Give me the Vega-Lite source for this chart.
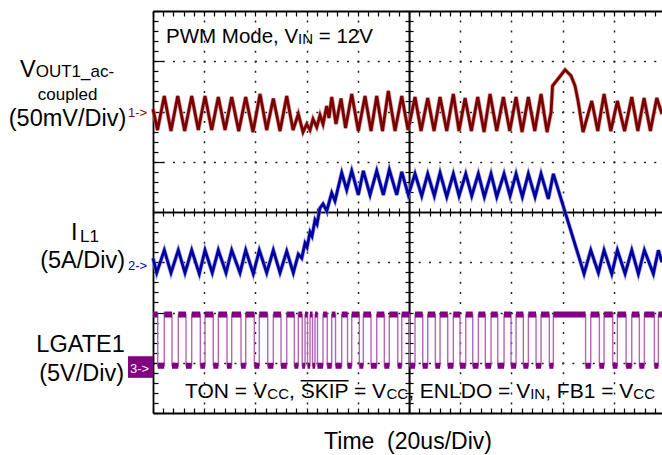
{
"$schema": "https://vega.github.io/schema/vega-lite/v6.json",
"autosize": {"type": "none"},
"width": 509,
"height": 402,
"padding": {"left": 153, "top": 11, "right": 0, "bottom": 42},
"background": "white",
"config": {"view": {"stroke": null}, "text": {"font": "Liberation Sans"}, "axis": {"domainColor": "black", "tickColor": "black", "tickWidth": 1.2, "labels": false, "zindex": 0}},
"datasets": {
"vout": [{"t":0,"v":6.05},{"t":1.76,"v":5.63},{"t":4.41,"v":6.31},{"t":7.03,"v":5.61},{"t":9.65,"v":6.31},{"t":12.38,"v":5.61},{"t":15.12,"v":6.31},{"t":17.7,"v":5.63},{"t":20.31,"v":6.31},{"t":22.93,"v":5.63},{"t":25.51,"v":6.29},{"t":28.13,"v":5.63},{"t":30.74,"v":6.29},{"t":33.48,"v":5.61},{"t":36.21,"v":6.29},{"t":39.06,"v":5.59},{"t":41.8,"v":6.35},{"t":44.41,"v":5.63},{"t":46.99,"v":6.26},{"t":49.61,"v":5.61},{"t":52.23,"v":6.31},{"t":54.69,"v":5.63},{"t":56.76,"v":5.95},{"t":58.59,"v":5.59},{"t":60.04,"v":5.75},{"t":61.33,"v":5.63},{"t":62.5,"v":5.85},{"t":63.95,"v":5.69},{"t":65.23,"v":5.93},{"t":66.41,"v":5.75},{"t":67.85,"v":6.11},{"t":68.75,"v":5.87},{"t":69.8,"v":6.29},{"t":71.48,"v":5.75},{"t":73.44,"v":6.26},{"t":75.2,"v":5.67},{"t":77.62,"v":6.35},{"t":80.2,"v":5.61},{"t":82.81,"v":6.31},{"t":85.16,"v":5.61},{"t":87.38,"v":6.31},{"t":89.65,"v":5.61},{"t":91.91,"v":6.41},{"t":94.53,"v":5.61},{"t":97.15,"v":6.31},{"t":99.61,"v":5.63},{"t":102.34,"v":6.29},{"t":104.69,"v":5.61},{"t":107.3,"v":6.27},{"t":109.77,"v":5.61},{"t":112.11,"v":6.29},{"t":114.73,"v":5.61},{"t":117.3,"v":6.35},{"t":119.53,"v":5.61},{"t":121.88,"v":6.27},{"t":124.34,"v":5.61},{"t":126.84,"v":6.29},{"t":129.3,"v":5.59},{"t":131.64,"v":6.35},{"t":134.26,"v":5.61},{"t":136.84,"v":6.29},{"t":139.34,"v":5.61},{"t":141.8,"v":6.29},{"t":144.14,"v":5.59},{"t":146.6,"v":6.29},{"t":149.1,"v":5.61},{"t":151.56,"v":6.35},{"t":153.91,"v":5.59},{"t":155.47,"v":5.99},{"t":156.05,"v":6.51},{"t":158.2,"v":6.65},{"t":160.94,"v":6.83},{"t":163.28,"v":6.71},{"t":164.84,"v":6.51},{"t":166.02,"v":6.21},{"t":167.97,"v":5.59},{"t":171.37,"v":6.21},{"t":173.71,"v":5.61},{"t":176.17,"v":6.35},{"t":178.79,"v":5.61},{"t":181.37,"v":6.21},{"t":184.18,"v":5.61},{"t":186.99,"v":6.29},{"t":189.37,"v":5.61},{"t":191.8,"v":6.27},{"t":194.26,"v":5.61},{"t":196.76,"v":6.27},{"t":198.8,"v":5.95}],
"il": [{"t":0,"v":3.08},{"t":1.45,"v":2.79},{"t":4.41,"v":3.24},{"t":7.03,"v":2.79},{"t":9.88,"v":3.24},{"t":12.5,"v":2.79},{"t":15.12,"v":3.24},{"t":18.09,"v":2.77},{"t":20.31,"v":3.24},{"t":23.16,"v":2.79},{"t":25.51,"v":3.24},{"t":28.52,"v":2.79},{"t":30.74,"v":3.24},{"t":33.98,"v":2.79},{"t":36.21,"v":3.24},{"t":39.18,"v":2.77},{"t":41.52,"v":3.24},{"t":44.41,"v":2.79},{"t":46.99,"v":3.24},{"t":49.61,"v":2.79},{"t":52.23,"v":3.22},{"t":54.8,"v":2.79},{"t":56.76,"v":3.16},{"t":58.09,"v":3.08},{"t":59.38,"v":3.38},{"t":60.16,"v":3.3},{"t":61.33,"v":3.6},{"t":62.11,"v":3.52},{"t":63.28,"v":3.84},{"t":64.06,"v":3.76},{"t":65.23,"v":4.08},{"t":66.41,"v":4.16},{"t":67.85,"v":4.02},{"t":69.8,"v":4.38},{"t":71.09,"v":4.22},{"t":73.71,"v":4.78},{"t":75.66,"v":4.44},{"t":77.62,"v":4.82},{"t":80.2,"v":4.34},{"t":82.15,"v":4.82},{"t":84.77,"v":4.34},{"t":87.38,"v":4.82},{"t":89.96,"v":4.34},{"t":92.3,"v":4.84},{"t":95.2,"v":4.34},{"t":97.15,"v":4.8},{"t":99.73,"v":4.34},{"t":102.34,"v":4.76},{"t":104.96,"v":4.32},{"t":107.3,"v":4.76},{"t":109.88,"v":4.32},{"t":112.11,"v":4.78},{"t":114.73,"v":4.3},{"t":117.3,"v":4.76},{"t":119.53,"v":4.32},{"t":122.15,"v":4.76},{"t":124.49,"v":4.32},{"t":127.07,"v":4.76},{"t":129.41,"v":4.3},{"t":132.03,"v":4.76},{"t":134.26,"v":4.3},{"t":137.11,"v":4.76},{"t":139.45,"v":4.32},{"t":141.8,"v":4.76},{"t":144.26,"v":4.3},{"t":146.6,"v":4.76},{"t":149.22,"v":4.3},{"t":151.56,"v":4.76},{"t":154.41,"v":4.26},{"t":156.37,"v":4.76},{"t":168.36,"v":2.77},{"t":170.98,"v":3.24},{"t":173.95,"v":2.79},{"t":176.17,"v":3.24},{"t":179.18,"v":2.77},{"t":181.37,"v":3.24},{"t":184.38,"v":2.77},{"t":186.99,"v":3.24},{"t":189.57,"v":2.77},{"t":191.91,"v":3.24},{"t":195.43,"v":2.77},{"t":197.38,"v":3.24},{"t":198.8,"v":3.0}],
"lg": [{"t":0,"v":1.96},{"t":1.84,"v":0.94},{"t":4.41,"v":1.96},{"t":7.42,"v":0.94},{"t":9.88,"v":1.96},{"t":12.89,"v":0.94},{"t":15.12,"v":1.96},{"t":18.48,"v":0.94},{"t":20.31,"v":1.96},{"t":23.55,"v":0.94},{"t":25.51,"v":1.96},{"t":28.91,"v":0.94},{"t":30.74,"v":1.96},{"t":34.38,"v":0.94},{"t":36.21,"v":1.96},{"t":39.57,"v":0.94},{"t":41.52,"v":1.96},{"t":44.8,"v":0.94},{"t":46.99,"v":1.96},{"t":50.0,"v":0.94},{"t":52.23,"v":1.96},{"t":55.2,"v":0.94},{"t":56.76,"v":1.96},{"t":58.28,"v":0.94},{"t":59.38,"v":1.96},{"t":60.35,"v":0.94},{"t":61.33,"v":1.96},{"t":62.3,"v":0.94},{"t":63.28,"v":1.96},{"t":64.26,"v":0.94},{"t":66.41,"v":1.96},{"t":68.05,"v":0.94},{"t":69.8,"v":1.96},{"t":71.29,"v":0.94},{"t":73.71,"v":1.96},{"t":75.98,"v":0.94},{"t":77.62,"v":1.96},{"t":80.59,"v":0.94},{"t":82.15,"v":1.96},{"t":85.16,"v":0.94},{"t":87.38,"v":1.96},{"t":90.35,"v":0.94},{"t":92.3,"v":1.96},{"t":95.59,"v":0.94},{"t":97.15,"v":1.96},{"t":100.12,"v":0.94},{"t":102.34,"v":1.96},{"t":105.35,"v":0.94},{"t":107.3,"v":1.96},{"t":110.27,"v":0.94},{"t":112.11,"v":1.96},{"t":115.12,"v":0.94},{"t":117.3,"v":1.96},{"t":119.92,"v":0.94},{"t":122.15,"v":1.96},{"t":124.88,"v":0.94},{"t":127.07,"v":1.96},{"t":129.8,"v":0.94},{"t":132.03,"v":1.96},{"t":134.65,"v":0.94},{"t":137.11,"v":1.96},{"t":139.84,"v":0.94},{"t":141.8,"v":1.96},{"t":144.65,"v":0.94},{"t":146.6,"v":1.96},{"t":149.61,"v":0.94},{"t":151.56,"v":1.96},{"t":154.8,"v":0.94},{"t":156.37,"v":1.96},{"t":168.95,"v":0.94},{"t":170.98,"v":1.96},{"t":174.34,"v":0.94},{"t":176.17,"v":1.96},{"t":179.57,"v":0.94},{"t":181.37,"v":1.96},{"t":184.77,"v":0.94},{"t":186.99,"v":1.96},{"t":189.96,"v":0.94},{"t":191.91,"v":1.96},{"t":195.82,"v":0.94},{"t":197.38,"v":1.96},{"t":198.8,"v":1.96}],
"box": [{"t":-9.76,"t2":0,"v":1.13,"v2":0.7}],
"markers": [{"s":"1->","t":-9.76,"v":5.89,"ch":"1"},{"s":"2->","t":-9.76,"v":2.85,"ch":"2"},{"s":"3->","t":-8.98,"v":0.8,"ch":"3"}],
"bigc": [{"s":"(50mV/Div)","t":-33.4,"v":5.71},{"s":"(5A/Div)","t":-27.5,"v":2.89},{"s":"LGATE1","t":-28.3,"v":1.21},{"s":"(5V/Div)","t":-27.9,"v":0.64}],
"bigl": [{"s":"V","t":-51.9,"v":6.69},{"s":"I","t":-32.0,"v":3.44}],
"midl": [{"s":"OUT1_ac-","t":-45.8,"v":6.68},{"s":"L1","t":-28.5,"v":3.4},{"s":"coupled","t":-45.0,"v":6.23}],
"toptxt": [{"s":"PWM Mode, V","t":5.08,"v":7.36},{"s":"= 12V","t":64.75,"v":7.36}],
"bottxt": [{"s":"TON = V","t":12.5,"v":0.3},{"s":", SKIP = V","t":53.12,"v":0.3},{"s":", ENLDO = V","t":99.67,"v":0.3},{"s":", FB1 = V","t":153.18,"v":0.3}],
"subs": [{"s":"IN","t":56.67,"v":7.34},{"s":"CC","t":44.64,"v":0.27},{"s":"CC","t":91.2,"v":0.27},{"s":"IN","t":147.32,"v":0.27},{"s":"CC","t":187.59,"v":0.27}],
"over": [{"t":57.69,"t2":76.39,"v":0.64}]
},
"resolve": {"axis": {"x": "independent", "y": "independent"}},
"layer": [
{"data": {"name": "vout"}, "mark": {"type": "line", "color": "#c98585", "strokeWidth": 4.2, "opacity": 0.8},
 "encoding": {
  "x": {"field": "t", "type": "quantitative", "scale": {"domain": [0, 198.8], "nice": false, "zero": false},
   "axis": {"orient": "bottom", "values": [0,4,8,12,16,20,24,28,32,36,40,44,48,52,56,60,64,68,72,76,80,84,88,92,96,100,104,108,112,116,120,124,128,132,136,140,144,148,152,156,160,164,168,172,176,180,184,188,192,196], "tickSize": -5, "domainWidth": 1.8, "grid": false, "title": "Time\u00a0\u00a0(20us/Div)", "titleFont": "Liberation Sans", "titleFontSize": 23, "titleFontWeight": "normal", "titleColor": "black", "titlePadding": 17}},
  "y": {"field": "v", "type": "quantitative", "scale": {"domain": [0, 8], "nice": false, "zero": false},
   "axis": {"orient": "left", "values": [0,0.2,0.4,0.6,0.8,1,1.2,1.4,1.6,1.8,2,2.2,2.4,2.6,2.8,3,3.2,3.4,3.6,3.8,4,4.2,4.4,4.6,4.8,5,5.2,5.4,5.6,5.8,6,6.2,6.4,6.6,6.8,7,7.2,7.4,7.6,7.8,8], "tickSize": -5, "domainWidth": 1.8, "grid": false, "title": null}}
 }},
{"data": {"name": "vout"}, "mark": {"type": "line", "color": "#7a0000", "strokeWidth": 2.8},
 "encoding": {
  "x": {"field": "t", "type": "quantitative", "scale": {"domain": [0, 198.8], "nice": false, "zero": false},
   "axis": {"orient": "top", "values": [0,4,8,12,16,20,24,28,32,36,40,44,48,52,56,60,64,68,72,76,80,84,88,92,96,100,104,108,112,116,120,124,128,132,136,140,144,148,152,156,160,164,168,172,176,180,184,188,192,196], "tickSize": -5, "domainWidth": 1.8, "grid": false, "title": null}},
  "y": {"field": "v", "type": "quantitative", "scale": {"domain": [0, 8], "nice": false, "zero": false},
   "axis": {"orient": "left", "values": [1,2,3,5,6,7], "grid": true, "gridDash": [2, 8.24], "gridDashOffset": 1, "gridColor": "#222222", "gridWidth": 1.5, "tickSize": -10, "domain": false, "title": null}}
 }},
{"data": {"name": "il"}, "mark": {"type": "line", "color": "#8a8ad8", "strokeWidth": 4.2, "opacity": 0.8},
 "encoding": {
  "x": {"field": "t", "type": "quantitative", "scale": {"domain": [0, 198.8], "nice": false, "zero": false},
   "axis": {"orient": "bottom", "offset": -201, "values": [0,4,8,12,16,20,24,28,32,36,40,44,48,52,56,60,64,68,72,76,80,84,88,92,96,100,104,108,112,116,120,124,128,132,136,140,144,148,152,156,160,164,168,172,176,180,184,188,192,196], "tickSize": 4, "domainWidth": 1.6, "grid": false, "title": null}},
  "y": {"field": "v", "type": "quantitative", "scale": {"domain": [0, 8], "nice": false, "zero": false},
   "axis": {"orient": "left", "offset": -256.04, "values": [0,0.2,0.4,0.6,0.8,1,1.2,1.4,1.6,1.8,2,2.2,2.4,2.6,2.8,3,3.2,3.4,3.6,3.8,4,4.2,4.4,4.6,4.8,5,5.2,5.4,5.6,5.8,6,6.2,6.4,6.6,6.8,7,7.2,7.4,7.6,7.8,8], "tickSize": 4, "domainWidth": 1.6, "grid": false, "title": null}}
 }},
{"data": {"name": "il"}, "mark": {"type": "line", "color": "#0000a0", "strokeWidth": 2.8},
 "encoding": {
  "x": {"field": "t", "type": "quantitative", "scale": {"domain": [0, 198.8], "nice": false, "zero": false},
   "axis": {"orient": "top", "offset": -201, "values": [0,4,8,12,16,20,24,28,32,36,40,44,48,52,56,60,64,68,72,76,80,84,88,92,96,100,104,108,112,116,120,124,128,132,136,140,144,148,152,156,160,164,168,172,176,180,184,188,192,196], "tickSize": 4, "domainWidth": 1.6, "grid": false, "title": null}},
  "y": {"field": "v", "type": "quantitative", "scale": {"domain": [0, 8], "nice": false, "zero": false},
   "axis": {"orient": "right", "offset": -252.96, "values": [0,0.2,0.4,0.6,0.8,1,1.2,1.4,1.6,1.8,2,2.2,2.4,2.6,2.8,3,3.2,3.4,3.6,3.8,4,4.2,4.4,4.6,4.8,5,5.2,5.4,5.6,5.8,6,6.2,6.4,6.6,6.8,7,7.2,7.4,7.6,7.8,8], "tickSize": 4, "domainWidth": 1.6, "grid": false, "title": null}}
 }},
{"data": {"name": "lg"}, "mark": {"type": "line", "color": "#b566b5", "strokeWidth": 1.4, "interpolate": "step-after"},
 "encoding": {
  "x": {"field": "t", "type": "quantitative", "scale": {"domain": [0, 198.8], "nice": false, "zero": false},
   "axis": {"orient": "bottom", "values": [20,40,60,80,120,140,160,180], "grid": true, "gridDash": [2, 8.05], "gridDashOffset": 1, "gridColor": "#222222", "gridWidth": 1.5, "ticks": false, "domain": false, "title": null}},
  "y": {"field": "v", "type": "quantitative", "scale": {"domain": [0, 8], "nice": false, "zero": false}, "axis": null}
 }},
{"data": {"name": "lg"},
 "transform": [{"window": [{"op": "lead", "field": "t", "as": "t2"}], "sort": [{"field": "t", "order": "ascending"}]}, {"filter": "datum.t2 != null"}],
 "mark": {"type": "rule", "color": "#800080", "strokeWidth": 6, "strokeCap": "butt"},
 "encoding": {
  "x": {"field": "t", "type": "quantitative", "scale": {"domain": [0, 198.8], "nice": false, "zero": false}, "axis": null},
  "x2": {"field": "t2"},
  "y": {"field": "v", "type": "quantitative", "scale": {"domain": [0, 8], "nice": false, "zero": false}, "axis": null}
 }},
{"data": {"name": "box"}, "mark": {"type": "rect", "color": "#800080"},
 "encoding": {
  "x": {"field": "t", "type": "quantitative", "scale": {"domain": [0, 198.8], "nice": false, "zero": false}, "axis": null},
  "x2": {"field": "t2"},
  "y": {"field": "v", "type": "quantitative", "scale": {"domain": [0, 8], "nice": false, "zero": false}, "axis": null},
  "y2": {"field": "v2"}
 }},
{"data": {"name": "markers"}, "mark": {"type": "text", "fontSize": 13, "align": "left", "baseline": "alphabetic", "font": "Liberation Sans"},
 "encoding": {
  "x": {"field": "t", "type": "quantitative", "scale": {"domain": [0, 198.8], "nice": false, "zero": false}, "axis": null},
  "y": {"field": "v", "type": "quantitative", "scale": {"domain": [0, 8], "nice": false, "zero": false}, "axis": null},
  "text": {"field": "s"},
  "color": {"field": "ch", "type": "nominal", "scale": {"domain": ["1", "2", "3"], "range": ["#800000", "#0000c0", "#ffffff"]}, "legend": null}
 }},
{"data": {"name": "bigc"}, "mark": {"type": "text", "fontSize": 23.5, "align": "center", "baseline": "alphabetic", "font": "Liberation Sans", "color": "black"},
 "encoding": {
  "x": {"field": "t", "type": "quantitative", "scale": {"domain": [0, 198.8], "nice": false, "zero": false}, "axis": null},
  "y": {"field": "v", "type": "quantitative", "scale": {"domain": [0, 8], "nice": false, "zero": false}, "axis": null},
  "text": {"field": "s"}
 }},
{"data": {"name": "bigl"}, "mark": {"type": "text", "fontSize": 23.5, "align": "left", "baseline": "alphabetic", "font": "Liberation Sans", "color": "black"},
 "encoding": {
  "x": {"field": "t", "type": "quantitative", "scale": {"domain": [0, 198.8], "nice": false, "zero": false}, "axis": null},
  "y": {"field": "v", "type": "quantitative", "scale": {"domain": [0, 8], "nice": false, "zero": false}, "axis": null},
  "text": {"field": "s"}
 }},
{"data": {"name": "midl"}, "mark": {"type": "text", "fontSize": 17, "align": "left", "baseline": "alphabetic", "font": "Liberation Sans", "color": "black"},
 "encoding": {
  "x": {"field": "t", "type": "quantitative", "scale": {"domain": [0, 198.8], "nice": false, "zero": false}, "axis": null},
  "y": {"field": "v", "type": "quantitative", "scale": {"domain": [0, 8], "nice": false, "zero": false}, "axis": null},
  "text": {"field": "s"}
 }},
{"data": {"name": "toptxt"}, "mark": {"type": "text", "fontSize": 20.5, "align": "left", "baseline": "alphabetic", "font": "Liberation Sans", "color": "black"},
 "encoding": {
  "x": {"field": "t", "type": "quantitative", "scale": {"domain": [0, 198.8], "nice": false, "zero": false}, "axis": null},
  "y": {"field": "v", "type": "quantitative", "scale": {"domain": [0, 8], "nice": false, "zero": false}, "axis": null},
  "text": {"field": "s"}
 }},
{"data": {"name": "bottxt"}, "mark": {"type": "text", "fontSize": 21, "align": "left", "baseline": "alphabetic", "font": "Liberation Sans", "color": "black"},
 "encoding": {
  "x": {"field": "t", "type": "quantitative", "scale": {"domain": [0, 198.8], "nice": false, "zero": false}, "axis": null},
  "y": {"field": "v", "type": "quantitative", "scale": {"domain": [0, 8], "nice": false, "zero": false}, "axis": null},
  "text": {"field": "s"}
 }},
{"data": {"name": "subs"}, "mark": {"type": "text", "fontSize": 15, "align": "left", "baseline": "alphabetic", "font": "Liberation Sans", "color": "black"},
 "encoding": {
  "x": {"field": "t", "type": "quantitative", "scale": {"domain": [0, 198.8], "nice": false, "zero": false}, "axis": null},
  "y": {"field": "v", "type": "quantitative", "scale": {"domain": [0, 8], "nice": false, "zero": false}, "axis": null},
  "text": {"field": "s"}
 }},
{"data": {"name": "over"}, "mark": {"type": "rule", "color": "black", "strokeWidth": 1.5},
 "encoding": {
  "x": {"field": "t", "type": "quantitative", "scale": {"domain": [0, 198.8], "nice": false, "zero": false}, "axis": null},
  "x2": {"field": "t2"},
  "y": {"field": "v", "type": "quantitative", "scale": {"domain": [0, 8], "nice": false, "zero": false}, "axis": null}
 }}
]
}
